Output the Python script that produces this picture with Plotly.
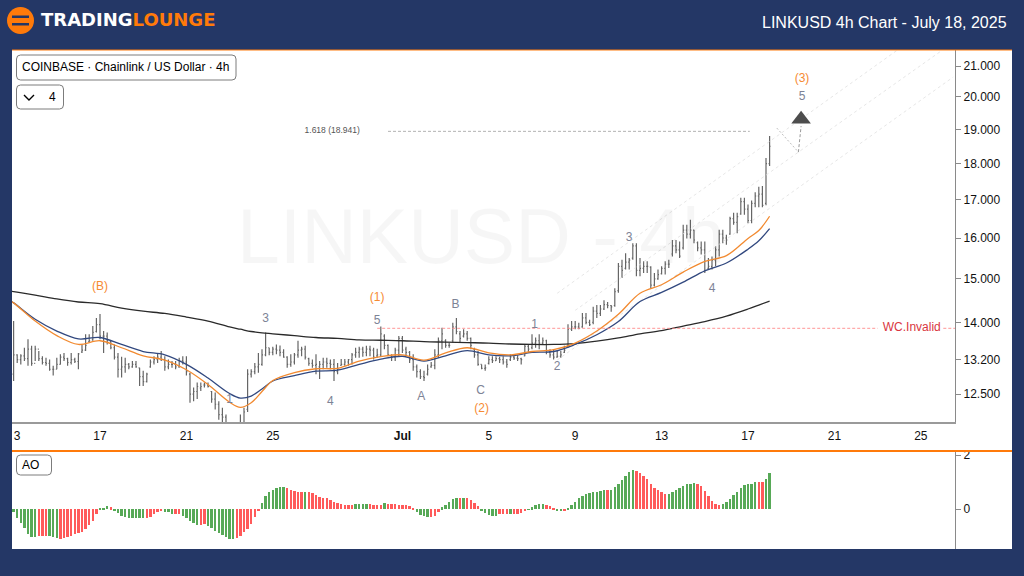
import pandas as pd
import plotly.graph_objects as go

# Chart values ---
bar_start = "2025-06-13 00:00"

highs = [
    14.03, 13.31, 13.31, 13.45, 13.63, 13.49, 13.49, 13.38, 13.27, 13.24,
    13.20, 13.07, 13.24, 13.31, 13.34, 13.24, 13.34, 13.24, 13.34, 13.52,
    13.74, 13.74, 13.92, 14.10, 14.19, 13.81, 13.78, 13.60, 13.52, 13.34,
    13.26, 13.24, 13.13, 13.17, 13.17, 13.03, 12.97, 12.93, 13.20, 13.27,
    13.34, 13.38, 13.27, 13.20, 13.17, 13.17, 13.24, 13.27, 13.27, 12.93,
    12.63, 12.73, 12.73, 12.73, 12.73, 12.56, 12.53, 12.36, 12.23, 12.10,
    11.92, 11.85, 11.80, 12.10, 12.23, 13.00, 13.00, 13.13, 13.34, 13.42,
    13.78, 13.45, 13.47, 13.52, 13.50, 13.42, 13.27, 13.31, 13.34, 13.60,
    13.47, 13.49, 13.24, 13.20, 13.31, 13.17, 13.24, 13.24, 13.20, 13.21,
    13.13, 13.21, 13.21, 13.21, 13.34, 13.45, 13.47, 13.47, 13.49, 13.49,
    13.45, 13.43, 13.91, 13.74, 13.52, 13.31, 13.45, 13.70, 13.70, 13.47,
    13.38, 13.31, 13.10, 13.00, 12.97, 13.10, 13.15, 13.42, 13.67, 13.88,
    13.63, 13.55, 13.99, 14.10, 13.81, 13.85, 13.81, 13.67, 13.45, 13.38,
    13.10, 13.10, 13.27, 13.27, 13.27, 13.26, 13.27, 13.21, 13.31, 13.29,
    13.29, 13.24, 13.52, 13.52, 13.74, 13.67, 13.74, 13.67, 13.62, 13.42,
    13.42, 13.38, 13.38, 13.49, 13.96, 14.03, 14.03, 13.99, 14.21, 14.21,
    14.06, 14.35, 14.39, 14.39, 14.50, 14.46, 14.39, 14.78, 15.38, 15.46,
    15.62, 15.50, 15.87, 15.87, 15.50, 15.42, 15.42, 15.30, 15.14, 15.22,
    15.30, 15.42, 15.46, 15.95, 15.95, 15.91, 16.34, 16.34, 16.47, 16.21,
    15.91, 15.91, 15.91, 15.50, 15.54, 15.79, 16.21, 16.21, 16.08, 16.55,
    16.65, 16.65, 17.05, 17.05, 16.87, 16.98, 17.20, 17.35, 17.37, 18.16, 18.80,
]
lows = [
    12.76, 13.13, 13.10, 13.17, 13.07, 13.07, 13.17, 13.17, 13.10, 13.07,
    12.97, 12.87, 13.00, 13.10, 13.17, 13.07, 13.10, 13.13, 13.00, 13.34,
    13.38, 13.56, 13.60, 13.78, 13.63, 13.34, 13.52, 13.42, 13.20, 12.83,
    12.83, 12.93, 13.00, 13.03, 13.03, 12.66, 12.66, 12.73, 13.03, 13.10,
    13.13, 13.17, 12.97, 13.00, 13.03, 13.00, 13.03, 13.10, 12.87, 12.33,
    12.36, 12.40, 12.56, 12.63, 12.63, 12.33, 12.20, 12.00, 11.95, 11.90,
    11.60, 11.50, 11.45, 11.80, 11.85, 12.15, 12.83, 12.90, 12.93, 13.07,
    13.27, 13.29, 13.29, 13.31, 13.27, 13.24, 13.03, 13.05, 13.10, 13.24,
    13.27, 13.20, 13.07, 13.03, 12.90, 12.80, 13.00, 13.03, 13.00, 12.76,
    12.90, 13.07, 13.07, 13.07, 13.10, 13.24, 13.24, 13.26, 13.27, 13.27,
    13.20, 13.24, 13.26, 13.42, 13.27, 13.17, 13.17, 13.27, 13.34, 13.28,
    13.13, 12.97, 12.83, 12.80, 12.76, 12.87, 13.03, 13.00, 13.24, 13.42,
    13.45, 13.45, 13.56, 13.74, 13.56, 13.67, 13.60, 13.42, 13.24, 13.07,
    13.00, 12.97, 13.10, 13.13, 13.17, 13.13, 13.10, 13.03, 13.17, 13.19,
    13.17, 13.10, 13.27, 13.34, 13.42, 13.45, 13.42, 13.52, 13.31, 13.24,
    13.20, 13.24, 13.24, 13.34, 13.45, 13.81, 13.85, 13.85, 13.88, 13.96,
    13.92, 13.96, 14.10, 14.14, 14.28, 14.32, 14.24, 14.35, 14.67, 15.02,
    15.22, 15.22, 15.46, 15.06, 15.06, 15.14, 15.14, 14.78, 14.82, 14.98,
    15.10, 15.10, 15.26, 15.54, 15.62, 15.50, 15.71, 15.99, 15.99, 15.87,
    15.67, 15.59, 15.14, 15.22, 15.22, 15.30, 15.54, 15.87, 15.83, 16.08,
    16.34, 16.12, 16.60, 16.60, 16.38, 16.38, 16.80, 16.80, 16.80, 16.85, 17.93,
]
opens = [
    12.90, 13.30, 13.20, 13.28, 13.22, 13.42, 13.12, 13.42, 13.22, 13.14,
    13.12, 13.00, 13.00, 13.10, 13.25, 13.22, 13.14, 13.20, 13.16, 13.36,
    13.40, 13.58, 13.62, 13.80, 13.95, 13.70, 13.70, 13.58, 13.45, 13.25,
    13.00, 13.05, 13.10, 13.05, 13.10, 13.03, 12.85, 12.75, 13.05, 13.15,
    13.20, 13.25, 13.20, 13.05, 13.10, 13.10, 13.05, 13.18, 13.15, 12.90,
    12.50, 12.55, 12.62, 12.68, 12.68, 12.55, 12.40, 12.30, 12.10, 12.05,
    11.90, 11.80, 11.70, 11.85, 11.90, 12.20, 12.90, 12.95, 13.05, 13.10,
    13.30, 13.45, 13.35, 13.42, 13.40, 13.35, 13.25, 13.10, 13.15, 13.30,
    13.40, 13.42, 13.22, 13.12, 13.08, 13.05, 13.10, 13.15, 13.12, 13.10,
    12.95, 13.08, 13.10, 13.15, 13.20, 13.30, 13.35, 13.42, 13.35, 13.42,
    13.40, 13.28, 13.30, 13.70, 13.50, 13.28, 13.25, 13.40, 13.65, 13.42,
    13.35, 13.20, 13.05, 12.95, 12.85, 12.90, 13.05, 13.08, 13.30, 13.60,
    13.60, 13.50, 13.60, 13.90, 13.75, 13.70, 13.75, 13.65, 13.42, 13.30,
    13.10, 13.02, 13.12, 13.20, 13.18, 13.22, 13.20, 13.15, 13.20, 13.25,
    13.23, 13.22, 13.28, 13.48, 13.45, 13.55, 13.60, 13.55, 13.60, 13.35,
    13.30, 13.25, 13.27, 13.35, 13.48, 13.85, 13.90, 13.90, 13.90, 14.10,
    14.00, 14.00, 14.25, 14.20, 14.30, 14.40, 14.38, 14.38, 14.72, 15.30,
    15.25, 15.40, 15.50, 15.80, 15.20, 15.25, 15.30, 15.28, 14.85, 15.00,
    15.12, 15.25, 15.35, 15.60, 15.80, 15.70, 15.75, 16.20, 16.10, 16.20,
    15.88, 15.75, 15.70, 15.25, 15.30, 15.45, 15.70, 16.10, 16.00, 16.10,
    16.50, 16.40, 16.62, 16.95, 16.75, 16.45, 16.90, 17.10, 17.15, 16.90, 18.00,
]
closes = [
    13.30, 13.20, 13.28, 13.22, 13.42, 13.12, 13.42, 13.22, 13.14, 13.12,
    13.00, 13.00, 13.10, 13.25, 13.22, 13.14, 13.20, 13.16, 13.32, 13.40,
    13.50, 13.60, 13.78, 13.95, 13.70, 13.70, 13.60, 13.45, 13.25, 13.00,
    13.05, 13.10, 13.05, 13.10, 13.05, 12.85, 12.75, 12.90, 13.15, 13.20,
    13.25, 13.20, 13.05, 13.10, 13.10, 13.05, 13.18, 13.15, 12.95, 12.50,
    12.55, 12.65, 12.65, 12.68, 12.65, 12.40, 12.30, 12.10, 12.05, 11.95,
    11.80, 11.70, 11.75, 11.90, 12.15, 12.90, 12.95, 13.05, 13.10, 13.30,
    13.45, 13.35, 13.42, 13.40, 13.35, 13.25, 13.10, 13.15, 13.30, 13.40,
    13.42, 13.25, 13.12, 13.08, 13.10, 13.10, 13.15, 13.12, 13.10, 12.95,
    13.00, 13.10, 13.15, 13.20, 13.30, 13.35, 13.42, 13.35, 13.42, 13.40,
    13.25, 13.30, 13.75, 13.50, 13.30, 13.25, 13.40, 13.65, 13.40, 13.35,
    13.20, 13.05, 12.95, 12.85, 12.83, 13.00, 13.08, 13.30, 13.60, 13.75,
    13.50, 13.50, 13.90, 13.80, 13.65, 13.75, 13.65, 13.50, 13.30, 13.10,
    13.02, 13.03, 13.20, 13.18, 13.22, 13.20, 13.15, 13.10, 13.25, 13.23,
    13.22, 13.20, 13.48, 13.42, 13.55, 13.60, 13.55, 13.60, 13.35, 13.30,
    13.25, 13.27, 13.30, 13.40, 13.85, 13.90, 13.90, 13.87, 14.10, 14.00,
    13.95, 14.25, 14.20, 14.30, 14.40, 14.38, 14.35, 14.70, 15.30, 15.20,
    15.40, 15.45, 15.80, 15.20, 15.25, 15.30, 15.30, 14.85, 15.00, 15.10,
    15.25, 15.35, 15.35, 15.80, 15.70, 15.55, 16.20, 16.10, 16.20, 15.95,
    15.75, 15.70, 15.20, 15.30, 15.45, 15.70, 16.10, 16.00, 15.95, 16.50,
    16.40, 16.55, 16.95, 16.75, 16.45, 16.90, 17.10, 17.15, 16.85, 18.00, 18.50,
]

# moving averages, read once a day (half a day around the turns)
ma_days = [
    -0.2, 0, 1, 2, 3, 4, 5, 6, 7, 8, 9, 10, 10.5, 11, 11.5, 12, 13, 14, 15, 16, 17, 18,
    19, 20, 21, 22, 23, 24, 25, 26, 27, 28, 29, 30, 31, 32, 33, 34, 34.5, 35,
]
ema_fast = [
    14.50, 14.44, 14.03, 13.71, 13.52, 13.60, 13.45, 13.28, 13.19, 12.99, 12.69, 12.34, 12.24, 12.33,
    12.55, 12.77, 12.93, 13.01, 13.02, 13.17, 13.26, 13.30, 13.19, 13.34, 13.45, 13.34, 13.30, 13.37,
    13.41, 13.55, 13.81, 14.18, 14.66, 14.86, 15.16, 15.42, 15.56, 15.99, 16.19, 16.56,
]
ema_slow = [
    14.50, 14.44, 14.07, 13.81, 13.64, 13.67, 13.52, 13.37, 13.30, 13.10, 12.82, 12.51, 12.42, 12.46,
    12.60, 12.76, 12.87, 12.96, 12.98, 13.10, 13.21, 13.27, 13.17, 13.28, 13.39, 13.30, 13.28, 13.35,
    13.37, 13.52, 13.73, 14.02, 14.47, 14.68, 14.92, 15.19, 15.38, 15.72, 15.93, 16.24,
]
sma_long = [
    14.71, 14.70, 14.62, 14.53, 14.46, 14.42, 14.32, 14.25, 14.20, 14.12, 14.03, 13.90, 13.85, 13.80,
    13.77, 13.75, 13.71, 13.67, 13.65, 13.62, 13.61, 13.60, 13.58, 13.57, 13.56, 13.55, 13.53, 13.52,
    13.52, 13.54, 13.59, 13.66, 13.75, 13.82, 13.92, 14.02, 14.14, 14.30, 14.39, 14.48,
]

# awesome oscillator
ao_values = [
    -0.12, -0.35, -0.52, -0.72, -0.93, -1.05, -1.05, -1.01, -0.99, -0.99, -1.01, -1.05, -1.09,
    -1.11, -1.07, -1.04, -0.99, -0.93, -0.89, -0.86, -0.74, -0.59, -0.43, -0.19, 0.02, 0.04, 0.10,
    0.06, -0.04, -0.15, -0.25, -0.31, -0.32, -0.32, -0.32, -0.33, -0.33, -0.35, -0.30, -0.20,
    -0.12, -0.06, -0.10, -0.12, -0.19, -0.17, -0.17, -0.25, -0.35, -0.43, -0.52, -0.58, -0.58,
    -0.56, -0.62, -0.72, -0.80, -0.89, -0.95, -1.02, -1.11, -1.11, -1.09, -0.99, -0.86, -0.74,
    -0.56, -0.31, -0.04, 0.22, 0.47, 0.64, 0.72, 0.77, 0.80, 0.83, 0.77, 0.70, 0.68, 0.65, 0.64,
    0.64, 0.62, 0.59, 0.52, 0.43, 0.40, 0.40, 0.35, 0.27, 0.22, 0.20, 0.16, 0.15, 0.15, 0.17,
    0.19, 0.20, 0.19, 0.19, 0.16, 0.15, 0.15, 0.22, 0.19, 0.17, 0.17, 0.15, 0.15, 0.14, 0.11,
    0.02, -0.12, -0.21, -0.27, -0.31, -0.30, -0.25, -0.12, 0.06, 0.15, 0.27, 0.38, 0.41, 0.40,
    0.41, 0.40, 0.32, 0.22, 0.12, -0.04, -0.16, -0.21, -0.25, -0.25, -0.20, -0.19, -0.19, -0.19,
    -0.17, -0.17, -0.14, -0.09, -0.01, 0.06, 0.15, 0.19, 0.19, 0.16, 0.10, 0.05, -0.04, -0.07,
    -0.05, 0.04, 0.15, 0.26, 0.40, 0.49, 0.56, 0.58, 0.64, 0.65, 0.67, 0.70, 0.72, 0.72, 0.83,
    0.93, 1.09, 1.23, 1.38, 1.44, 1.40, 1.32, 1.23, 1.11, 0.93, 0.79, 0.70, 0.63, 0.57, 0.57,
    0.64, 0.72, 0.77, 0.84, 0.91, 0.94, 0.95, 0.93, 0.84, 0.68, 0.49, 0.31, 0.17, 0.16, 0.17,
    0.26, 0.37, 0.53, 0.62, 0.77, 0.88, 0.94, 0.94, 0.99, 0.99, 0.99, 1.11, 1.33,
]
# G / R state of each AO column, as run lengths
ao_runs = [
    ("G", 7), ("R", 3), ("G", 3), ("R", 11), ("G", 3), ("R", 1), ("G", 9), ("R", 5), ("G", 3),
    ("R", 2), ("G", 5), ("R", 2), ("G", 8), ("R", 7), ("G", 7), ("R", 5), ("G", 1), ("R", 13),
    ("G", 4), ("R", 4), ("G", 1), ("R", 3), ("R", 5), ("G", 4), ("R", 3), ("G", 5), ("R", 1),
    ("G", 1), ("R", 4), ("G", 5), ("R", 3), ("G", 1), ("R", 4), ("G", 5), ("R", 3), ("G", 2),
    ("R", 1), ("G", 11), ("R", 1), ("G", 7), ("R", 9), ("G", 8), ("R", 7), ("G", 10), ("R", 2),
    ("G", 2),
]

# wave counts
wave_text = ["(B)", "3", "1", "4", "5", "(1)", "B", "A", "C", "(2)", "1", "2", "3", "4", "(3)", "5"]
wave_time = [
    "2025-06-17 00:00", "2025-06-24 16:00", "2025-06-23 00:00", "2025-06-27 16:00",
    "2025-06-29 20:00", "2025-06-29 20:00", "2025-07-03 11:00", "2025-07-01 21:00",
    "2025-07-04 15:00", "2025-07-04 16:00", "2025-07-07 03:00", "2025-07-08 04:00",
    "2025-07-11 12:00", "2025-07-15 08:00", "2025-07-19 12:00", "2025-07-19 12:00",
]
wave_price = [14.80, 14.07, 12.38, 12.34, 14.03, 14.55, 14.39, 12.44, 12.56, 12.21, 13.94, 13.04, 16.00, 14.76, 20.57, 19.99]

fib_time = ["2025-06-30 08:00", "2025-07-17 02:00"]
fib_price = [18.941, 18.941]
invalid_time = ["2025-06-29 20:00", "2025-07-23 00:00", None, "2025-07-26 01:00", "2025-07-26 14:00"]
invalid_price = [13.87, 13.87, None, 13.87, 13.87]

channels = [
    (["2025-07-08 04:00", "2025-07-23 22:00"], [14.66, 21.54]),
    (["2025-07-09 00:00", "2025-07-26 00:00"], [14.27, 21.54]),
    (["2025-07-08 04:00", "2025-07-26 12:00"], [13.19, 20.64]),
]
path_time = ["2025-07-18 08:00", "2025-07-19 08:00", "2025-07-19 11:00"]
path_price = [19.04, 18.33, 19.10]

price_ticks = [21, 20, 19, 18, 17, 16, 15, 14, 13.2, 12.5]
date_ticks = ["2025-06-13 04:00", "2025-06-17", "2025-06-21", "2025-06-25", "2025-07-01", "2025-07-05",
              "2025-07-09", "2025-07-13", "2025-07-17", "2025-07-21", "2025-07-25"]
date_labels = ["3", "17", "21", "25", "<b>Jul</b>", "5", "9", "13", "17", "21", "25"]

# Styling ---
W, H = 1024, 576
NAVY = "#243766"
ORANGE = "#ff7a0a"
WAVE_ORANGE = "#f68b33"
WAVE_GRAY = "#7d8396"
FONT = "Liberation Sans"


def px(x):
    return x / W


def py(y):
    return 1 - y / H


def round_box(x0, y0, x1, y1, r=4):
    """Rounded legend box, given in page pixels."""
    k = [(x0 + r, y0), (x1 - r, y0), (x1, y0, x1, y0 + r), (x1, y1 - r), (x1, y1, x1 - r, y1),
         (x0 + r, y1), (x0, y1, x0, y1 - r), (x0, y0 + r), (x0, y0, x0 + r, y0)]
    path = ""
    for i, p in enumerate(k):
        if len(p) == 2:
            path += f"{'M' if i == 0 else 'L'} {px(p[0])} {py(p[1])} "
        else:
            path += f"Q {px(p[0])} {py(p[1])} {px(p[2])} {py(p[3])} L {px(p[2])} {py(p[3])} "
    return dict(type="path", xref="paper", yref="paper", path=path + "Z",
                fillcolor="white", line=dict(color="#7c7c7c", width=1))


def rect(x0, y0, x1, y1, color, circle=False):
    return dict(type="circle" if circle else "rect", xref="paper", yref="paper", layer="below",
                x0=px(x0), x1=px(x1), y0=py(y1), y1=py(y0), fillcolor=color, line_width=0)


def page_text(x, y, text, size, color="black", anchor="left", family=FONT):
    return dict(xref="paper", yref="paper", x=px(x), y=py(y), text=text, showarrow=False,
                xanchor=anchor, yanchor="middle", font=dict(size=size, color=color, family=family))


bar_times = pd.date_range(bar_start, periods=len(closes), freq="4h")
ma_times = [pd.Timestamp(bar_start) + pd.Timedelta(days=d) for d in ma_days]
ao_states = [state for state, n in ao_runs for _ in range(n)]
ao_colors = ["#57a957" if s == "G" else "#ff5a5a" for s in ao_states]

fig = go.Figure()

for ch_time, ch_price in channels:
    fig.add_trace(go.Scatter(x=ch_time, y=ch_price, mode="lines",
                             line=dict(color="#e0e0e0", width=0.8, dash="3px,3px")))

fig.add_trace(go.Ohlc(
    x=bar_times, open=opens, high=highs, low=lows, close=closes, tickwidth=0.28,
    increasing_line=dict(color="#666666", width=1.2), decreasing_line=dict(color="#666666", width=1.2),
))

fig.add_trace(go.Scatter(x=ma_times, y=sma_long, mode="lines", line=dict(color="#2a2a2a", width=1.3, shape="spline")))
fig.add_trace(go.Scatter(x=ma_times, y=ema_slow, mode="lines", line=dict(color="#31487f", width=1.3, shape="spline")))
fig.add_trace(go.Scatter(x=ma_times, y=ema_fast, mode="lines", line=dict(color="#f28a30", width=1.3, shape="spline")))

fig.add_trace(go.Scatter(x=fib_time, y=fib_price, mode="lines", line=dict(color="#aaaaaa", width=0.9, dash="3px,2px")))
fig.add_trace(go.Scatter(x=invalid_time, y=invalid_price, mode="lines", line=dict(color="#ff8a8a", width=0.9, dash="3px,2px")))

fig.add_trace(go.Scatter(x=path_time[:2], y=path_price[:2], mode="lines", line=dict(color="#b5b5b5", width=0.9, dash="2px,2px")))
fig.add_trace(go.Scatter(x=path_time[1:], y=path_price[1:], mode="lines", line=dict(color="#9a9a9a", width=1, dash="3px,2px")))
fig.add_trace(go.Scatter(x=["2025-07-19 11:00"], y=[19.31], mode="markers",
                         marker=dict(symbol="triangle-up", size=17, color="#4d4d4d")))

wave_colors = [WAVE_ORANGE if t.startswith("(") else WAVE_GRAY for t in wave_text]
fig.add_trace(go.Scatter(x=wave_time, y=wave_price, text=wave_text, mode="text", textposition="middle center",
                         textfont=dict(size=12, color=wave_colors, family=FONT)))
fig.add_trace(go.Scatter(x=["2025-06-27 18:00"], y=[18.95], text=["1.618 (18.941)"], mode="text",
                         textposition="middle center", textfont=dict(size=8.5, color="#555555", family=FONT)))
fig.add_trace(go.Scatter(x=["2025-07-24 14:00"], y=[13.87], text=["WC.Invalid"], mode="text",
                         textposition="middle center", textfont=dict(size=12, color="#d9363e", family=FONT)))

fig.add_trace(go.Bar(x=bar_times, y=ao_values, marker=dict(color=ao_colors, line_width=0),
                     width=4 * 3600 * 1000 * 0.62, xaxis="x2", yaxis="y2"))

shapes = [
    rect(12, 50, 1012, 549, "white"),
    rect(7, 7, 34, 34, ORANGE, circle=True),
    rect(12, 15.5, 29, 18, NAVY),
    rect(12, 23, 29, 25.5, NAVY),
    dict(type="line", xref="paper", yref="paper", x0=px(12), x1=px(1012), y0=py(50), y1=py(50),
         line=dict(color=ORANGE, width=1.2)),
    dict(type="line", xref="paper", yref="paper", x0=px(12), x1=px(1012), y0=py(451), y1=py(451),
         line=dict(color=ORANGE, width=2)),
    round_box(16.5, 55, 236, 80),
    round_box(16.5, 85, 63.5, 109),
    round_box(16.5, 455, 51.5, 475),
    dict(type="path", xref="paper", yref="paper",
         path=f"M {px(24)} {py(95)} L {px(29)} {py(100)} L {px(34)} {py(95)}",
         line=dict(color="black", width=1.4)),
]

annotations = [
    page_text(39, 20, f'<b><span style="color:white">TRADING</span><span style="color:{ORANGE}">LOUNGE</span></b>',
              18, family="DejaVu Sans"),
    page_text(1009, 22.5, "LINKUSD 4h Chart - July 18, 2025", 16, "white", anchor="right"),
    page_text(481, 236, "LINKUSD - 4h", 77, "rgba(0,0,0,0.035)", anchor="center"),
    page_text(20, 67, "COINBASE · Chainlink / US Dollar · 4h", 12),
    page_text(47, 97, "4", 12),
    page_text(20, 465, "AO", 12),
]

fig.update_layout(
    width=W, height=H, margin=dict(l=0, r=0, t=0, b=0), autosize=False, template="none",
    paper_bgcolor=NAVY, plot_bgcolor="white", showlegend=False, bargap=0,
    font=dict(family=FONT, size=12, color="black"),
    shapes=shapes, annotations=annotations,
    xaxis=dict(domain=[px(12), px(955)], range=["2025-06-12 22:13", "2025-07-26 14:00"], type="date",
               tickvals=date_ticks, ticktext=date_labels, ticks="", showgrid=False, zeroline=False,
               showline=True, linecolor="#9a9a9a", linewidth=1.5, anchor="y", rangeslider=dict(visible=False),
               tickfont=dict(size=12, color="#111111"), ticklabelstandoff=2, automargin=False),
    xaxis2=dict(domain=[px(12), px(955)], matches="x", anchor="y2", visible=False, type="date"),
    yaxis=dict(domain=[py(422), py(50)], type="log", range=[1.0777, 1.3333], side="right", anchor="x",
               tickvals=price_ticks, ticktext=[f"{t:.3f}" for t in price_ticks], ticks="outside",
               ticklen=5, tickcolor="#8a8a8a", showgrid=False, zeroline=False, showline=True,
               linecolor="#8a8a8a", linewidth=1.2, tickfont=dict(size=12, color="#111111"), automargin=False),
    yaxis2=dict(domain=[py(549), py(451)], range=[-1.48, 2.15], side="right", anchor="x2",
                tickvals=[2, 0], ticktext=["2", "0"], ticks="outside", ticklen=5, tickcolor="#8a8a8a",
                showgrid=False, zeroline=False, showline=True, linecolor="#8a8a8a", linewidth=1.2,
                tickfont=dict(size=12, color="#111111"), automargin=False),
)

# default page margin would push the fixed-size figure 8px off
fig.write_html("out.html", config={"displayModeBar": False},
               post_script="document.body.style.margin='0';document.body.style.overflow='hidden';")
